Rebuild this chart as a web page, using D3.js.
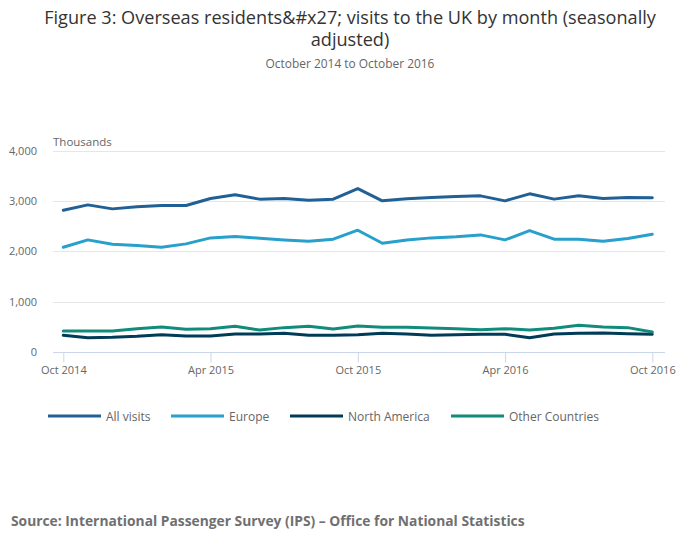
<!DOCTYPE html>
<html>
<head>
<meta charset="utf-8">
<script src="https://cdn.jsdelivr.net/npm/d3@7"></script>
<style>
  html, body { margin: 0; padding: 0; background: #fff; }
  svg { display: block; font-family: "Open Sans", sans-serif; }
</style>
</head>
<body>
<svg id="chart" width="700" height="549"></svg>
<script>
const months = ["Oct 2014","Nov 2014","Dec 2014","Jan 2015","Feb 2015","Mar 2015","Apr 2015","May 2015","Jun 2015","Jul 2015","Aug 2015","Sep 2015","Oct 2015","Nov 2015","Dec 2015","Jan 2016","Feb 2016","Mar 2016","Apr 2016","May 2016","Jun 2016","Jul 2016","Aug 2016","Sep 2016","Oct 2016"];
const allVisits = [2817,2922,2843,2883,2909,2909,3048,3121,3036,3048,3016,3036,3246,3002,3042,3068,3088,3101,3002,3141,3036,3101,3048,3068,3062];
const europe = [2083,2228,2143,2116,2083,2149,2268,2294,2262,2228,2202,2242,2420,2162,2228,2268,2288,2327,2228,2413,2242,2242,2202,2255,2341];
const northAmerica = [337,290,298,317,350,323,323,363,363,377,337,337,350,377,363,337,350,357,357,290,363,377,383,370,357];
const otherCountries = [423,423,423,469,502,456,469,515,442,489,515,462,522,496,496,482,469,449,469,442,476,535,502,489,403];
const seriesNames = ["All visits","Europe","North America","Other Countries"];
const seriesColors = ["#206095","#27a0cc","#003c57","#118c7b"];
const yTicks = [0,1000,2000,3000,4000];
const xTickLabels = ["Oct 2014","Apr 2015","Oct 2015","Apr 2016","Oct 2016"];

const titleText = "Figure 3: Overseas residents&#x27; visits to the UK by month (seasonally";
const titleText2 = "adjusted)";
const subtitleText = "October 2014 to October 2016";
const sourceText = "Source: International Passenger Survey (IPS) \u2013 Office for National Statistics";

const svg = d3.select("#chart");
const plotLeft = 53, plotRight = 665, plotTop = 150, plotBottom = 352.3;

const x = d3.scalePoint().domain(months).range([63.3, 652.3]);
const y = d3.scaleLinear().domain([0, 4000]).range([plotBottom, plotTop + 0.5]);

function fitText(sel, target) {
  const w = sel.node().getComputedTextLength();
  const fs = parseFloat(sel.attr("font-size"));
  sel.attr("font-size", (fs * target / w).toFixed(2));
}
const t1 = svg.append("text").attr("x", 350).attr("y", 23.5).attr("text-anchor", "middle")
  .attr("font-size", 18).attr("fill", "#333333").text(titleText);
fitText(t1, 612);
svg.append("text").attr("x", 350).attr("y", 45.5).attr("text-anchor", "middle")
  .attr("font-size", t1.attr("font-size")).attr("fill", "#333333").text(titleText2);
const st = svg.append("text").attr("x", 350).attr("y", 68.3).attr("text-anchor", "middle")
  .attr("font-size", 12).attr("fill", "#666666").text(subtitleText);
fitText(st, 169);

// Grid
svg.append("g").selectAll("line").data(yTicks.filter(d => d > 0)).join("line")
  .attr("x1", plotLeft).attr("x2", plotRight)
  .attr("y1", d => Math.round(y(d)) + 0.5).attr("y2", d => Math.round(y(d)) + 0.5)
  .attr("stroke", "#e6e6e6").attr("stroke-width", 1);

// Y axis labels
const yAxis = d3.axisLeft(y).tickValues(yTicks).tickFormat(d3.format(",")).tickSize(0).tickPadding(0);
const gy = svg.append("g").attr("transform", `translate(37,0)`).call(yAxis);
gy.select(".domain").remove();
gy.selectAll("text").attr("font-size", 11).attr("fill", "#666666").attr("font-family", "Open Sans, sans-serif");

svg.append("text").attr("x", 53).attr("y", 146).attr("font-size", 11.5).attr("fill", "#666666").text("Thousands");

// X axis
const xAxis = d3.axisBottom(x).tickValues(xTickLabels).tickSize(10).tickPadding(4);
const gx = svg.append("g").attr("transform", `translate(0,${Math.round(plotBottom) + 0.5})`).call(xAxis);
gx.select(".domain").attr("d", `M${plotLeft},0H${plotRight}`).attr("stroke", "#ccd6eb");
gx.selectAll(".tick line").attr("stroke", "#ccd6eb");
gx.selectAll("text").attr("font-size", 11).attr("fill", "#666666").attr("font-family", "Open Sans, sans-serif");

// Lines
const allSeries = [allVisits, europe, northAmerica, otherCountries];
const line = d3.line().x((d, i) => x(months[i])).y(d => y(d));
svg.append("g").selectAll("path").data([0, 1, 2, 3]).join("path")
  .attr("d", k => line(allSeries[k]))
  .attr("fill", "none").attr("stroke", k => seriesColors[k])
  .attr("stroke-width", 3).attr("stroke-linejoin", "round").attr("stroke-linecap", "round");

// Legend
const legendX = [48, 171, 290, 451];
const lg = svg.append("g").selectAll("g").data(seriesNames).join("g")
  .attr("transform", (d, i) => `translate(${legendX[i]},416)`);
lg.append("line").attr("x1", 0).attr("x2", 53).attr("y1", 0).attr("y2", 0)
  .attr("stroke", (d, i) => seriesColors[i]).attr("stroke-width", 3);
lg.append("text").attr("x", 58).attr("y", 4.7).attr("font-size", 12).attr("fill", "#666666").text(d => d);

// Source
const src = svg.append("text").attr("x", 11).attr("y", 526).attr("font-size", 14).attr("font-weight", "bold")
  .attr("fill", "#707070").text(sourceText);
fitText(src, 514);
</script>
</body>
</html>
